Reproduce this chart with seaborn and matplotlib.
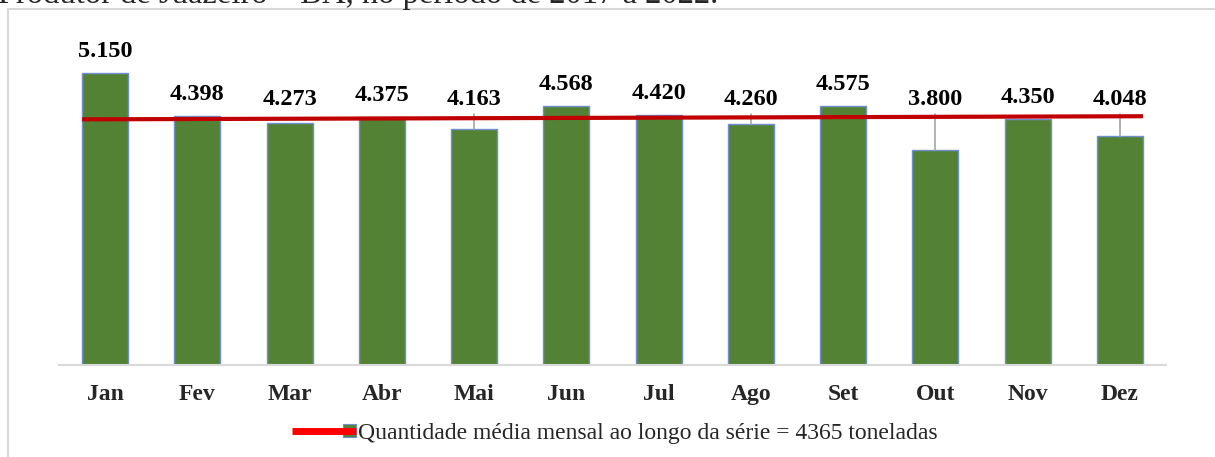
import numpy as np
import matplotlib
matplotlib.use("Agg")
import matplotlib.pyplot as plt
from matplotlib.lines import Line2D
from matplotlib.patches import Rectangle, Patch
from matplotlib.legend_handler import HandlerBase
import seaborn as sns

# Dados
meses = ['Jan', 'Fev', 'Mar', 'Abr', 'Mai', 'Jun', 'Jul', 'Ago', 'Set', 'Out', 'Nov', 'Dez']
quantidade = [5150, 4398, 4273, 4375, 4163, 4568, 4420, 4260, 4575, 3800, 4350, 4048]
linha_media = [4335, 4390]  # valores da linha vermelha no início e no fim da série
meses_com_guia = ['Mai', 'Ago', 'Out', 'Dez']
legenda = 'Quantidade média mensal ao longo da série = 4365 toneladas'
titulo_cortado = 'Produtor de Juazeiro – BA, no período de 2017 a 2022.'

VERDE = '#548235'
AZUL_BORDA = '#6F8FCF'
VERMELHO = '#C00000'
CINZA = '#D9D9D9'

sns.set_style("white")
plt.rcParams['font.family'] = ['Liberation Serif', 'DejaVu Serif']


class HandlerLinhaQuadrado(HandlerBase):
    """Linha vermelha com o quadrado verde na ponta, como na legenda do Excel"""
    def create_artists(self, legend, orig_handle, xdescent, ydescent,
                       width, height, fontsize, trans):
        yc = height / 2 - ydescent
        lado = height * 0.75
        quad = Rectangle((width - xdescent - lado, yc - lado / 2), lado, lado,
                         facecolor=VERDE, edgecolor=AZUL_BORDA, lw=0.8, transform=trans)
        linha = Line2D([-xdescent, width - xdescent], [yc, yc], color='#FF0000',
                       lw=5, solid_capstyle='butt', transform=trans)
        return [quad, linha]


fig = plt.figure(figsize=(12.15, 4.57), dpi=100)
ax = fig.add_axes([59 / 1215, 1 - 365 / 457, (1166 - 59) / 1215, (365 - 25) / 457])

sns.barplot(x=meses, y=quantidade, color=VERDE, saturation=1, width=0.5,
            edgecolor=AZUL_BORDA, linewidth=1, ax=ax, zorder=2)

ax.set_xlim(-0.5, len(meses) - 0.5)
ax.set_ylim(0, 6000)

# unidades por pixel para posicionar rótulos
px = 6000 / 340
piso = 4300
for i, (mes, v) in enumerate(zip(meses, quantidade)):
    y_base = max(v, piso) + 16 * px
    ax.text(i, y_base, f"{v:,}".replace(',', '.'), ha='center', va='baseline',
            fontsize=17.5, fontweight='bold', color='black', zorder=5)
    if mes in meses_com_guia:
        ax.plot([i, i], [v, y_base - 9 * px], color='#A6A6A6', lw=1.2, zorder=3)

# linha da média
ax.plot([-0.25, len(meses) - 0.75], linha_media, color=VERMELHO, lw=3,
        solid_capstyle='butt', zorder=4)

for lado in ['top', 'right', 'left']:
    ax.spines[lado].set_visible(False)
ax.spines['bottom'].set_color(CINZA)
ax.spines['bottom'].set_linewidth(1.5)
ax.set_yticks([])
ax.set_xlabel('')
ax.set_ylabel('')
ax.tick_params(axis='x', length=0, pad=14)
for t in ax.get_xticklabels():
    t.set_fontweight('bold')
    t.set_fontsize(17)

fig.legend(handles=[Patch()], labels=[legenda], handler_map={Patch: HandlerLinhaQuadrado()},
           loc='center', bbox_to_anchor=(615 / 1215, 1 - 433 / 457), frameon=False,
           fontsize=17, handlelength=2.7, handletextpad=0.1)

# moldura do gráfico
fig.patches.append(Rectangle((8 / 1215, -0.1), 1.2, 1.1 - 9 / 457, transform=fig.transFigure,
                             fill=False, edgecolor=CINZA, lw=1.5))

# texto do documento cortado acima do gráfico
fig.text(-2 / 1215, 1 - 3 / 457, titulo_cortado, ha='left', va='baseline', fontsize=23.5)

fig.savefig('out.png', dpi=100)
